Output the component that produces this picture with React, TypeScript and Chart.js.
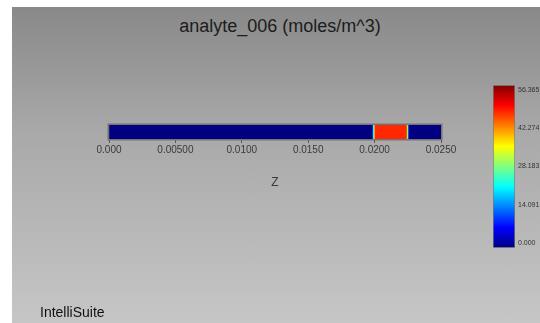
import React, { useEffect, useRef } from "react";
import { Chart, registerables } from "chart.js";

Chart.register(...registerables);

// ---- data ----
const chartTitle = "analyte_006 (moles/m^3)";
const axisTitle = "Z";
const brandText = "IntelliSuite";

const zMin = 0;
const zMax = 0.025;
const zTickValues = [0, 0.005, 0.01, 0.015, 0.02, 0.025];
const zTickLabels = ["0.000", "0.00500", "0.0100", "0.0150", "0.0200", "0.0250"];

// concentration profile along Z: segment edges and value inside each segment
const zEdges = [0, 0.01985, 0.0199, 0.01995, 0.02, 0.02005, 0.02245, 0.0225, 0.02255, 0.0226, 0.025];
const segValues = [0, 10, 20, 31, 41, 47.1, 36, 24, 12, 0];

const colorMin = 0;
const colorMax = 56.365;
const colorTicks = [0, 14.091, 28.183, 42.274, 56.365];
const colorTickLabels = ["0.000", "14.091", "28.183", "42.274", "56.365"];

const FONT = '"Liberation Sans", Arial, Helvetica, sans-serif';

function jet(t: number): string {
  const c = (x: number) => Math.max(0, Math.min(1, x));
  const r = c(1.5 - Math.abs(4 * t - 3));
  const g = c(1.5 - Math.abs(4 * t - 2));
  const b = c(1.5 - Math.abs(4 * t - 1));
  return `rgb(${Math.round(r * 255)},${Math.round(g * 255)},${Math.round(b * 255)})`;
}
const valueColor = (v: number) => jet((v - colorMin) / (colorMax - colorMin));

const framePlugin = {
  id: "stripFrame",
  afterDatasetsDraw(chart: any) {
    const { ctx, chartArea: a } = chart;
    ctx.save();
    ctx.strokeStyle = "#747474";
    ctx.lineWidth = 1.5;
    ctx.strokeRect(a.left - 0.75, a.top - 0.75, a.right - a.left + 1.5, a.bottom - a.top + 1.5);
    ctx.restore();
  },
};

const AXIS_H = 52;

export default function App() {
  const mainRef = useRef<HTMLCanvasElement | null>(null);
  const barRef = useRef<HTMLCanvasElement | null>(null);

  useEffect(() => {
    Chart.defaults.font.family = FONT;
    const segData = segValues.map((v, i) => ({ x: [zEdges[i], zEdges[i + 1]], y: "strip" }));
    const main = new Chart(mainRef.current!, {
      type: "bar",
      data: {
        labels: ["strip"],
        datasets: [
          {
            data: segData as any,
            backgroundColor: segValues.map(valueColor),
            borderWidth: 0,
            barPercentage: 1,
            categoryPercentage: 1,
          },
        ],
      },
      options: {
        indexAxis: "y",
        animation: false,
        responsive: false,
        events: [],
        layout: { padding: { left: 109, right: 99, top: 125, bottom: 323 - 139 - AXIS_H } },
        plugins: { legend: { display: false }, tooltip: { enabled: false } },
        scales: {
          x: {
            type: "linear",
            position: "bottom",
            min: zMin,
            max: zMax,
            afterBuildTicks: (s: any) => {
              s.ticks = zTickValues.map((v) => ({ value: v }));
            },
            afterFit: (s: any) => {
              s.height = AXIS_H;
            },
            ticks: {
              callback: (_v: any, i: number) => zTickLabels[i],
              autoSkip: false,
              maxRotation: 0,
              padding: 1,
              color: "#3a3a3a",
              font: { family: FONT, size: 10 },
            },
            grid: { display: true, drawOnChartArea: false, drawTicks: true, tickLength: 4, color: "#555", lineWidth: 1 },
            border: { display: false },
            title: {
              display: true,
              text: axisTitle,
              color: "#3a3a3a",
              font: { family: FONT, size: 12 },
              padding: { top: 20, bottom: 1 },
            },
          },
          y: { type: "category", labels: ["strip"], display: false },
        },
      },
      plugins: [framePlugin],
    });

    const pad = (colorMax - colorMin) * 0.029;
    const lo = colorMin - pad;
    const hi = colorMax + pad;
    const bar = new Chart(barRef.current!, {
      type: "bar",
      data: {
        labels: ["scale"],
        datasets: [
          {
            data: [[lo, hi]] as any,
            backgroundColor: (ctx: any) => {
              const area = ctx.chart.chartArea;
              if (!area) return "#000";
              const g = ctx.chart.ctx.createLinearGradient(0, area.bottom, 0, area.top);
              for (let k = 0; k <= 40; k++) g.addColorStop(k / 40, jet(k / 40));
              return g;
            },
            borderColor: "#7a7a7a",
            borderWidth: 1,
            borderSkipped: false,
            barPercentage: 1,
            categoryPercentage: 1,
          },
        ],
      },
      options: {
        animation: false,
        responsive: false,
        events: [],
        layout: { padding: { top: 6, bottom: 6, left: 0, right: 0 } },
        plugins: { legend: { display: false }, tooltip: { enabled: false } },
        scales: {
          x: { display: false },
          y: {
            position: "right",
            min: lo,
            max: hi,
            afterBuildTicks: (s: any) => {
              s.ticks = colorTicks.map((v) => ({ value: v }));
            },
            afterFit: (s: any) => {
              s.width = 25;
            },
            ticks: {
              callback: (_v: any, i: number) => colorTickLabels[i],
              color: "#333",
              font: { family: FONT, size: 7 },
              padding: 3,
            },
            grid: { display: false, drawTicks: false, tickLength: 0 },
            border: { display: false },
          },
        },
      },
    });
    return () => {
      main.destroy();
      bar.destroy();
    };
  }, []);

  return (
    <div
      style={{
        position: "absolute",
        left: 0,
        top: 0,
        width: 540,
        height: 323,
        background: "#fff",
        overflow: "hidden",
        fontFamily: FONT,
      }}
    >
      <div
        style={{
          position: "absolute",
          left: 12,
          top: 7,
          right: 0,
          bottom: 0,
          background: "linear-gradient(#898989, #a9a9a9 40%, #c6c6c6)",
        }}
      />
      <div
        style={{
          position: "absolute",
          left: 80,
          width: 400,
          top: 16,
          textAlign: "center",
          fontSize: 18,
          lineHeight: "21px",
          color: "#1c1c1c",
          whiteSpace: "nowrap",
        }}
      >
        {chartTitle}
      </div>
      <canvas
        ref={mainRef}
        width={540}
        height={323}
        style={{ position: "absolute", left: 0, top: 0, width: 540, height: 323 }}
      />
      <canvas
        ref={barRef}
        width={47}
        height={177}
        style={{ position: "absolute", left: 493, top: 78, width: 47, height: 177 }}
      />
      <div
        style={{
          position: "absolute",
          left: 40,
          top: 304,
          fontSize: 14,
          lineHeight: "16px",
          color: "#111",
          whiteSpace: "nowrap",
        }}
      >
        {brandText}
      </div>
    </div>
  );
}
